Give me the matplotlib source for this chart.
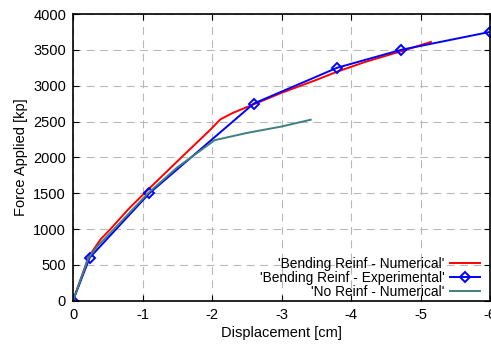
import matplotlib
matplotlib.use("Agg")
import matplotlib.pyplot as plt

plt.rcParams['font.family'] = ['Liberation Sans', 'DejaVu Sans']

# Bending Reinf - Numerical
num_x = [0, -0.22, -0.3, -0.4, -0.54, -0.8, -1.07, -1.56, -1.97, -2.12, -2.3, -2.6,
         -3.0, -3.5, -3.8, -4.2, -4.7, -5.15]
num_y = [0, 600, 720, 860, 1000, 1280, 1540, 2000, 2380, 2530, 2620, 2740,
         2900, 3080, 3195, 3330, 3474, 3610]

# Bending Reinf - Experimental
exp_x = [0, -0.24, -1.1, -2.6, -3.8, -4.72, -6.0]
exp_y = [0, 600, 1500, 2750, 3250, 3500, 3750]

# No Reinf - Numerical
nor_x = [0, -0.22, -0.35, -0.6, -1.08, -1.5, -2.04, -2.5, -3.0, -3.42]
nor_y = [0, 590, 760, 1010, 1500, 1860, 2240, 2340, 2430, 2525]

fig = plt.figure(figsize=(4.91, 3.45), dpi=100)
ax = fig.add_axes([73 / 491, 1 - 300.7 / 345, (490 - 73) / 491, (300.7 - 14) / 345])

ax.plot(num_x, num_y, color='#ff0000', lw=1.4, label="'Bending Reinf - Numerical'")
ax.plot(exp_x, exp_y, color='#0000ff', lw=1.4, marker='D', markersize=5.5,
        markerfacecolor='none', markeredgewidth=1.4, label="'Bending Reinf - Experimental'")
ax.plot(nor_x, nor_y, color='#3f8080', lw=1.4, label="'No Reinf - Numerical'")

ax.set_xlim(0, -6)
ax.set_ylim(0, 4000)
ax.set_xticks([0, -1, -2, -3, -4, -5, -6])
ax.set_xticklabels(['0', '-1', '-2', '-3', '-4', '-5', '-6'])
ax.set_yticks(range(0, 4001, 500))
ax.grid(True, color='#b8b8b8', linestyle=(0, (7, 5)), linewidth=0.8)
ax.tick_params(direction='in', top=True, right=True, labelsize=10.5, length=4, pad=5)
for sp in ax.spines.values():
    sp.set_linewidth(1.2)

ax.set_xlabel("Displacement [cm]", fontsize=10.5, labelpad=3)
ax.set_ylabel("Force Applied [kp]", fontsize=10.5, labelpad=4)

ax.legend(loc='lower right', frameon=False, markerfirst=False, fontsize=9.9,
          handlelength=2.2, labelspacing=0.0, borderaxespad=0.1, handletextpad=0.4,
          borderpad=0.3, bbox_to_anchor=(0.99, -0.014))

fig.savefig("out.png", dpi=100)
